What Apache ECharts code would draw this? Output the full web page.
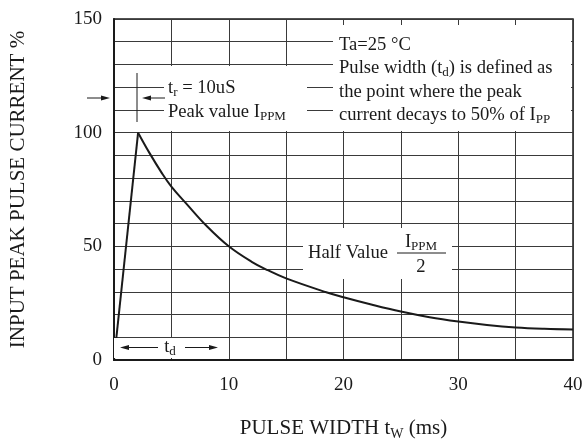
<!DOCTYPE html>
<html><head><meta charset="utf-8">
<script src="https://cdn.jsdelivr.net/npm/echarts@6/dist/echarts.min.js"></script>
<style>html,body{margin:0;padding:0;background:#fff}#c{width:587px;height:446px}</style>
</head><body><div id="c"></div>
<script>
const riseX = [0, 2.1];
const riseY = [0, 100];
const decayX = [2.1, 3.1, 4.2, 5, 6.3, 8.1, 10, 12, 13.4, 15, 18.5, 20, 22.5, 25, 27.5, 30, 32.5, 35, 37.5, 40];
const decayY = [100, 91, 82, 76.3, 68.8, 58.8, 50, 43.2, 39.5, 35.9, 29.8, 27.6, 24.3, 21.3, 18.8, 16.9, 15.4, 14.3, 13.7, 13.4];
const xTickLabels = [0, 10, 20, 30, 40];
const yTickLabels = [0, 50, 100, 150];

const FF = 'Liberation Serif';
const INK = '#1a1a1a';
const GRIDC = '#3a3a3a';
const subRich = { s: { fontSize: 13, lineHeight: 13, verticalAlign: 'bottom', fontFamily: FF, fill: INK, color: INK } };

function txt(x, y, text, align) {
  return { type: 'text', x: x, y: y, z: 20, style: {
    text: text, fill: INK, fontSize: 18.6, fontFamily: FF, lineHeight: 22,
    align: align || 'left', verticalAlign: 'middle', rich: subRich } };
}
function rect(x, y, w, h) {
  return { type: 'rect', z: 10, shape: { x: x, y: y, width: w, height: h }, style: { fill: '#fff' } };
}
function line(x1, y1, x2, y2) {
  return { type: 'line', z: 20, shape: { x1: x1, y1: y1, x2: x2, y2: y2 }, style: { stroke: INK, lineWidth: 1 } };
}
function head(tx, ty, dir) {
  const d = dir === 'left' ? 1 : -1;
  return { type: 'polygon', z: 20, shape: { points: [[tx, ty], [tx + 9 * d, ty - 2.5], [tx + 9 * d, ty + 2.5]] }, style: { fill: INK } };
}

const chart = echarts.init(document.getElementById('c'), null, { renderer: 'canvas' });
chart.setOption({
  backgroundColor: '#fff',
  animation: false,
  grid: { left: 112, right: 14, top: 19, bottom: 86, show: true, borderColor: INK, borderWidth: 1.5 },
  xAxis: {
    type: 'value', min: 0, max: 40, interval: 5,
    name: 'PULSE WIDTH t{s|W} (ms)', nameLocation: 'middle', nameGap: 55,
    nameTextStyle: { fontSize: 21, fontFamily: FF, color: INK, lineHeight: 26, rich: { s: { fontSize: 14, lineHeight: 14, verticalAlign: 'bottom', fontFamily: FF, color: INK } } },
    axisLine: { lineStyle: { color: INK, width: 2 } },
    axisTick: { show: false },
    splitLine: { lineStyle: { color: GRIDC, width: 1 } },
    axisLabel: { margin: 16, fontSize: 19, fontFamily: FF, color: INK,
      formatter: v => xTickLabels.indexOf(v) >= 0 ? String(v) : '' }
  },
  yAxis: {
    type: 'value', min: 0, max: 150, interval: 10,
    name: 'INPUT PEAK PULSE CURRENT %', nameLocation: 'middle', nameGap: 85,
    nameTextStyle: { fontSize: 21, fontFamily: FF, color: INK },
    axisLine: { show: true, lineStyle: { color: INK, width: 2 } },
    axisTick: { show: false },
    splitLine: { lineStyle: { color: GRIDC, width: 1 } },
    axisLabel: { margin: 12, fontSize: 19, fontFamily: FF, color: INK,
      formatter: v => yTickLabels.indexOf(v) >= 0 ? String(v) : '' }
  },
  series: [
    { type: 'line', data: riseX.map((x, i) => [x, riseY[i]]), showSymbol: false, lineStyle: { color: INK, width: 2 }, z: 5 },
    { type: 'line', data: decayX.map((x, i) => [x, decayY[i]]), showSymbol: false, smooth: 0.4, lineStyle: { color: INK, width: 2 }, z: 5 }
  ],
  graphic: { elements: [
    rect(164, 66, 143, 65),
    rect(333, 25, 238, 106),
    rect(303, 228, 149, 51),
    rect(114, 338, 112, 20),
    line(137, 73, 137, 122),
    line(165, 98, 150, 98), head(142, 98, 'left'),
    line(87, 98, 102, 98), head(110, 98, 'right'),
    txt(168, 88, 't{s|r} = 10uS'),
    txt(168, 112, 'Peak value I{s|PPM}'),
    txt(339, 45, 'Ta=25 °C'),
    txt(339, 68, 'Pulse width (t{s|d}) is defined as'),
    txt(339, 92, 'the point where the peak'),
    txt(339, 115, 'current decays to 50% of I{s|PP}'),
    txt(308, 253, 'Half Value'),
    txt(421, 242, 'I{s|PPM}', 'center'),
    line(397, 253, 446, 253),
    txt(421, 267, '2', 'center'),
    line(158, 347.5, 128, 347.5), head(120, 347.5, 'left'),
    line(185, 347.5, 210, 347.5), head(218, 347.5, 'right'),
    txt(170, 347, 't{s|d}', 'center')
  ] }
});
</script></body></html>
